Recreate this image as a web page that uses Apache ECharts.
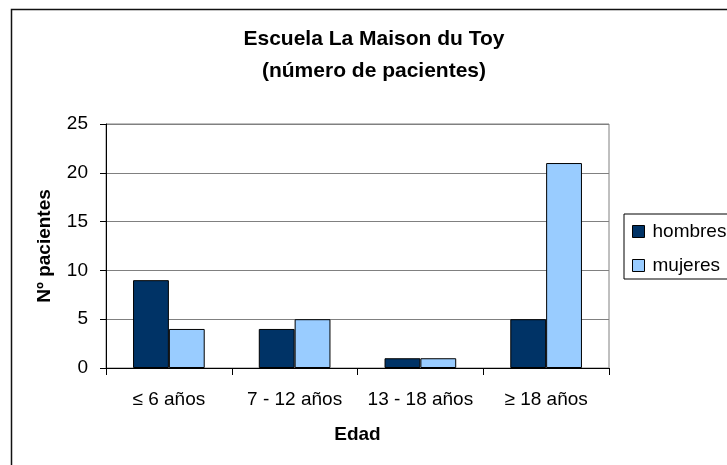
<!DOCTYPE html>
<html>
<head>
<meta charset="utf-8">
<title>Escuela La Maison du Toy</title>
<script src="https://cdn.jsdelivr.net/npm/echarts@6/dist/echarts.min.js"></script>
<style>
    html, body { margin: 0; padding: 0; background: #fff; }
    #chartContainer { width: 727px; height: 465px; }
</style>
</head>
<body>
<div id="chartContainer"></div>
<script>
//数据
var categories = ['≤ 6 años', '7 - 12 años', '13 - 18 años', '≥ 18 años'];
var hombres = [9, 4, 1, 5];
var mujeres = [4, 5, 1, 21];
var yTicks = { min: 0, max: 25, interval: 5 };

var fontName = 'Liberation Sans, Arial, sans-serif';
var chartContainer = document.getElementById('chartContainer');
var chart = echarts.init(chartContainer);

var option = {
    backgroundColor: '#fff',
    animation: false,
    title: {
        text: 'Escuela La Maison du Toy\n(número de pacientes)',
        left: 374,
        top: 23,
        padding: 0,
        textAlign: 'center',
        textStyle: {
            fontFamily: fontName,
            fontSize: 21,
            fontWeight: 'bold',
            color: '#000',
            lineHeight: 32
        }
    },
    //外框
    graphic: [{
        type: 'rect',
        shape: { x: 11.5, y: 9.5, width: 800, height: 600 },
        style: { fill: 'none', stroke: '#111', lineWidth: 1.5 },
        silent: true
    }],
    legend: {
        orient: 'vertical',
        left: 624,
        top: 214,
        padding: [8, 20, 4, 8],
        itemWidth: 12,
        itemHeight: 12,
        itemGap: 15,
        borderColor: '#000',
        borderWidth: 1,
        icon: 'rect',
        itemStyle: { borderColor: '#000', borderWidth: 1 },
        textStyle: {
            fontFamily: fontName,
            fontSize: 19,
            color: '#000',
            padding: [0, 0, 0, 3]
        },
        data: ['hombres', 'mujeres']
    },
    grid: {
        left: 106,
        right: 118,
        top: 124,
        bottom: 97,
        show: true,
        borderColor: '#808080',
        borderWidth: 1
    },
    xAxis: {
        type: 'category',
        data: categories,
        name: 'Edad',
        nameLocation: 'middle',
        nameGap: 57,
        nameTextStyle: { fontFamily: fontName, fontSize: 19, fontWeight: 'bold', color: '#000' },
        axisLine: { lineStyle: { color: '#000', width: 1 } },
        axisTick: { show: true, interval: 0, length: 7, lineStyle: { color: '#000' } },
        axisLabel: { interval: 0, fontFamily: fontName, fontSize: 19, color: '#000', margin: 22 }
    },
    yAxis: {
        type: 'value',
        min: yTicks.min,
        max: yTicks.max,
        interval: yTicks.interval,
        name: 'Nº pacientes',
        nameLocation: 'middle',
        nameRotate: 90,
        nameGap: 52,
        nameTextStyle: { fontFamily: fontName, fontSize: 19, fontWeight: 'bold', color: '#000' },
        axisLine: { show: true, lineStyle: { color: '#000', width: 1 } },
        axisTick: { show: true, length: 6, lineStyle: { color: '#000' } },
        axisLabel: { fontFamily: fontName, fontSize: 19, color: '#000', margin: 18 },
        splitLine: { lineStyle: { color: '#808080', width: 1 } }
    },
    series: [{
        name: 'hombres',
        type: 'bar',
        data: hombres,
        barGap: '0%',
        barCategoryGap: '43%',
        itemStyle: { color: '#003366', borderColor: '#000', borderWidth: 1 }
    }, {
        name: 'mujeres',
        type: 'bar',
        data: mujeres,
        barGap: '0%',
        barCategoryGap: '43%',
        itemStyle: { color: '#99CCFF', borderColor: '#000', borderWidth: 1 }
    }]
};

chart.setOption(option);
</script>
</body>
</html>
